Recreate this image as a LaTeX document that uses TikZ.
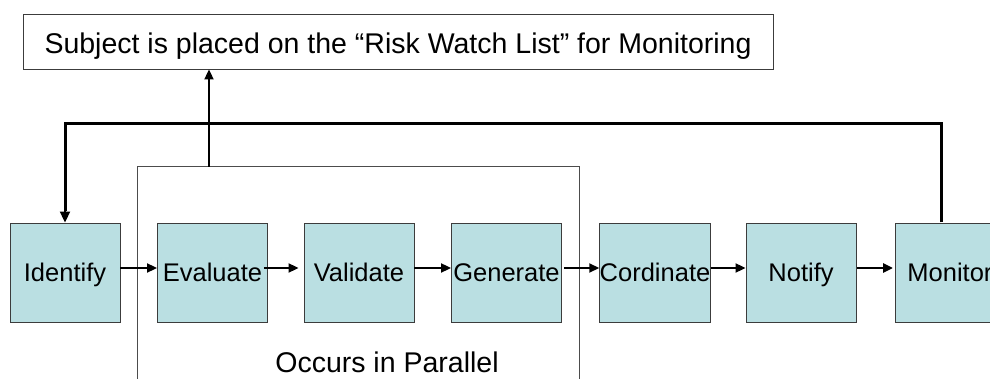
\documentclass[tikz,border=0pt]{standalone}
\usepackage{fontspec}
\setmainfont{Liberation Sans}
\usetikzlibrary{arrows.meta}
\definecolor{stepfill}{HTML}{BADFE2}
\definecolor{stepedge}{HTML}{3C3C3C}
\tikzset{
  stepbox/.style={draw=stepedge, line width=0.9pt, fill=stepfill,
    minimum width=110pt, minimum height=99pt, inner sep=0pt,
    text height=18.4pt, text depth=0pt,
    font=\fontsize{25.5}{30}\selectfont},
  flow/.style={line width=2pt, -{Triangle[length=10pt,width=9pt]}},
  loop/.style={line width=3pt},
  groupline/.style={draw=black!70, line width=1pt}
}
\begin{document}
\begin{tikzpicture}[x=1pt, y=-1pt]
  \useasboundingbox (0,0) rectangle (990,379);
  \clip (0,0) rectangle (990,379);

  % outcome box
  \node[draw=stepedge, line width=0.9pt, minimum width=750pt, minimum height=55pt,
        inner sep=0pt, text height=23.6pt, text depth=0pt,
        font=\fontsize{28.5}{32}\selectfont] (watch) at (398,41.5)
        {Subject is placed on the “Risk Watch List” for Monitoring};

  % open frame around the parallel steps
  \coordinate (gl) at (137,400);
  \coordinate (gtl) at (137,167);
  \coordinate (gtr) at (579,167);
  \coordinate (gr) at (579,400);
  \coordinate (gtop) at (209,167);
  \draw[groupline] (gl) -- (gtl) -- (gtr) -- (gr);
  \node[font=\fontsize{28.5}{32}\selectfont, anchor=base, inner sep=0pt]
        (parallel) at (387,372.7) {Occurs in Parallel};

  % process steps
  \node[stepbox] (identify)  at (65,272.5)  {Identify};
  \node[stepbox] (evaluate)  at (212.5,272.5) {Evaluate};
  \node[stepbox] (validate)  at (359,272.5) {Validate};
  \node[stepbox] (generate)  at (506.5,272.5) {Generate};
  \node[stepbox] (cordinate) at (655,272.5) {Cordinate};
  \node[stepbox] (notify)    at (801,272.5) {Notify};
  \node[stepbox, anchor=west, text width=98pt, align=left, inner xsep=12pt]
        (monitor) at (895,272.5) {Monitor};

  % forward flow
  \draw[flow] ([yshift=4.5pt]identify.east) -- ([yshift=4.5pt]evaluate.west);
  \draw[flow] ([xshift=-4pt,yshift=4.5pt]evaluate.east) -- ([xshift=-5pt,yshift=4.5pt]validate.west);
  \draw[flow] ([yshift=4.5pt]validate.east) -- ([yshift=4.5pt]generate.west);
  \draw[flow] ([xshift=2pt,yshift=4.5pt]generate.east) -- ([yshift=4.5pt]cordinate.west);
  \draw[flow] ([yshift=4.5pt]cordinate.east) -- ([yshift=4.5pt]notify.west);
  \draw[flow, line width=2.6pt] ([xshift=1pt,yshift=4.5pt]notify.east) -- ([xshift=-2pt,yshift=4.5pt]monitor.west);

  % feedback from monitoring back to identification
  \coordinate (mtop) at (941,222.5);
  \coordinate (loopR) at (941,124);
  \coordinate (loopL) at (65,124);
  \draw[loop] (mtop) -- (loopR) -- (loopL) -- ([yshift=12pt]identify.north);
  \draw[line width=2pt, -{Triangle[length=11pt,width=10pt]}]
        (loopL) -- (identify.north);

  % parallel steps lead to the watch list
  \draw[flow] (gtop) -- (gtop |- watch.south);
\end{tikzpicture}
\end{document}
